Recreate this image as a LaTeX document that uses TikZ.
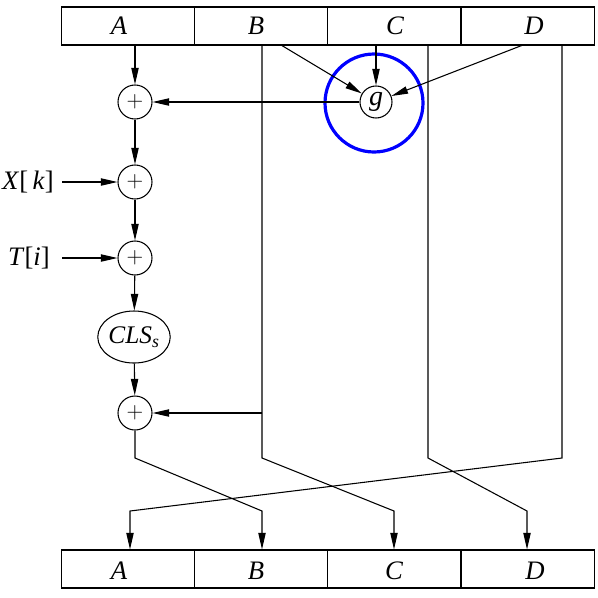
\documentclass[tikz,border=0pt]{standalone}
\usepackage{fontspec}
\setmainfont{Liberation Serif}
\usetikzlibrary{arrows.meta,shapes.geometric}
\begin{document}
\begin{tikzpicture}[x=0.75pt,y=-0.75pt,line width=0.8pt,
  arr/.style={-{Triangle[length=12.5pt,width=5.5pt]}},
  cell/.style={draw,rectangle,minimum width=100pt,minimum height=28.5pt,inner sep=0pt},
  lab/.style={font=\fontsize{20}{22}\selectfont\itshape,inner sep=0pt},
  sum/.style={draw,circle,minimum size=25.5pt,inner sep=0pt,font=\fontsize{18}{20}\selectfont},
  gnode/.style={draw,circle,minimum size=24pt,inner sep=0pt,font=\fontsize{21}{22}\selectfont\itshape},
  clsnode/.style={draw,ellipse,minimum width=48pt,minimum height=39pt,inner sep=0pt,font=\fontsize{19}{20}\selectfont\itshape},
  side/.style={font=\fontsize{20}{22}\selectfont,inner sep=0pt},
  hl/.style={draw=blue,circle,minimum size=73.5pt,line width=2.4pt}]
\useasboundingbox (0,0) rectangle (598,597);
% top register
\node[cell] (tA) at (127.7,26) {};
\node[cell] (tB) at (261.0,26) {};
\node[cell] (tC) at (394.3,26) {};
\node[cell] (tD) at (527.6,26) {};
\node[lab] (ltA) at (119,26) {A};
\node[lab] (ltB) at (256,26) {B};
\node[lab] (ltC) at (395,26) {C};
\node[lab] (ltD) at (534,26) {D};
% bottom register
\node[cell] (bA) at (127.7,569) {};
\node[cell] (bB) at (261.0,569) {};
\node[cell] (bC) at (394.3,569) {};
\node[cell] (bD) at (527.6,569) {};
\node[lab] (lbA) at (119,571) {A};
\node[lab] (lbB) at (256,571) {B};
\node[lab] (lbC) at (394,571) {C};
\node[lab] (lbD) at (535,571) {D};
% operators
\node[sum] (p1) at (135,102) {$+$};
\node[sum] (p2) at (135,182) {$+$};
\node[sum] (p3) at (135,258) {$+$};
\node[clsnode] (cls) at (134,337) {CLS\textsubscript{s}};
\node[sum] (p4) at (135,413) {$+$};
\node[gnode] (g) at (376,102) {g};
\node[hl] (hl) at (374,103) {};
\node[side] (xk) at (28,182) {\textit{X}[\,\textit{k}]};
\node[side] (ti) at (29,258) {\textit{T}[\textit{i}]};
% free ends
\coordinate (xs) at (62,182);
\coordinate (ts) at (62,258);
\coordinate (bs) at (281,45);
\coordinate (ds) at (523,45);
\coordinate (Bt) at (262,45);
\coordinate (Bm) at (262,458);
\coordinate (Bj) at (262,413);
\coordinate (Bd) at (394,511);
\coordinate (Ct) at (428,45);
\coordinate (Cm) at (428,458);
\coordinate (Cd) at (527,511);
\coordinate (Dt) at (562,45);
\coordinate (Dm) at (562,458);
\coordinate (Dd) at (130,511);
\coordinate (Am) at (135,458);
\coordinate (Ad) at (262,511);
% connectors
\draw[arr] (tA.south -| p1) -- (p1);
\draw[arr] (p1) -- (p2);
\draw[arr] (p2) -- (p3);
\draw[arr] (p3) -- (cls);
\draw[arr] (cls) -- (p4);
\draw[arr] (xs) -- (p2);
\draw[arr] (ts) -- (p3);
\draw[arr] (g) -- (p1);
\draw[arr] (bs) -- (g);
\draw[arr] (tC.south -| g) -- (g);
\draw[arr] (ds) -- (g);
\draw[arr] (Bj) -- (p4);
\draw[arr] (p4) -- (Am) -- (Ad) -- (bB.north -| Ad);
\draw[arr] (Bt) -- (Bm) -- (Bd) -- (bC.north -| Bd);
\draw[arr] (Ct) -- (Cm) -- (Cd) -- (bD.north -| Cd);
\draw[arr] (Dt) -- (Dm) -- (Dd) -- (bA.north -| Dd);
\end{tikzpicture}
\end{document}
